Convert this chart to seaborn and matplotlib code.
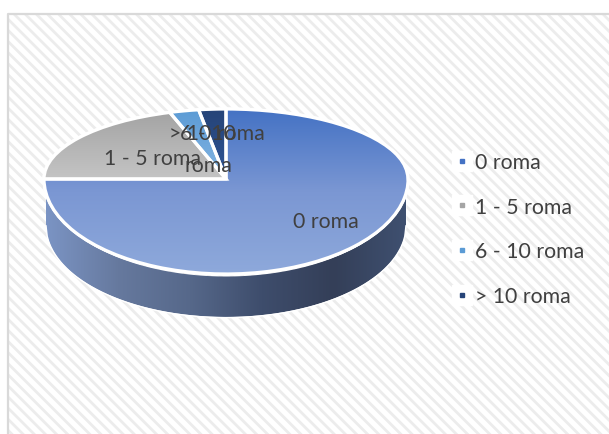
import numpy as np
import seaborn as sns
import matplotlib.pyplot as plt
from matplotlib.colors import LinearSegmentedColormap
from matplotlib.lines import Line2D
from matplotlib.legend_handler import HandlerTuple
from matplotlib.patches import Rectangle

categories = ['0 roma', '1 - 5 roma', '6 - 10 roma', '> 10 roma']
slice_labels = ['0 roma', '1 - 5 roma', '6 - 10\nroma', '> 10 roma']
values = [75, 20, 2.6, 2.4]

# gradient stops for every slice, top to bottom
slice_colors = [['#4472c4', '#7b97d3', '#8ea9db'],
                ['#a3a3a3', '#b4b4b4', '#c4c4c4'],
                ['#5b9bd5', '#70a8dc', '#86b6e2'],
                ['#264478', '#2a4c86', '#2f5597']]
legend_colors = ['#4472c4', '#a5a5a5', '#5b9bd5', '#264478']
side_colors = ['#7b94c4', '#66799e', '#56688a', '#3e4d6c', '#343f58', '#3f5070']

W, H = 609, 435

sns.set_theme(style='white')
plt.rcParams['font.family'] = ['Lato', 'DejaVu Sans']
plt.rcParams['hatch.linewidth'] = 2.0
text_color = '#404040'
font_size = 15.3

fig = plt.figure(figsize=(W / 100, H / 100), dpi=100, facecolor='white')

# background in pixel coordinates
bg = fig.add_axes([0, 0, 1, 1], zorder=0)
bg.add_patch(Rectangle((8, 15), 610, 430, facecolor='white', edgecolor='#ececec',
                       hatch='\\\\\\', linewidth=0))
bg.plot([8, 8, W], [H, 15, 15], color='#d9d9d9', lw=1.6)
bg.axis('off')

# pie rim below the top face
xs = np.linspace(46, 406, 300)
u = (xs - 226) / 180
arc = np.sqrt(np.clip(1 - u ** 2, 0, 1))
rim_top = 180 + 95 * arc + 2.5
rim_low = 226 + 92 * arc
rim = bg.fill_between(xs, rim_top, rim_low, color='white', linewidth=0, zorder=2)
side_cmap = LinearSegmentedColormap.from_list('side', side_colors)
side = bg.imshow(np.linspace(0, 1, 256)[None, :], cmap=side_cmap, aspect='auto',
                 extent=(46, 406, 320, 180), zorder=3)
side.set_clip_path(rim.get_paths()[0], bg.transData)
bg.plot(xs, rim_low + 0.6, color='white', lw=1.0, zorder=4)
bg.set_xlim(0, W)
bg.set_ylim(H, 0)


def to_axes(y):
    return np.where(y > 0, 70 * y, 95 * y)


def from_axes(y):
    return np.where(y > 0, y / 70, y / 95)


def draw_pie(pos, z):
    # axes box is the bounding box of the ellipse
    a = fig.add_axes(pos, zorder=z)
    w, _ = a.pie(values, startangle=90, counterclock=False, radius=1,
                 wedgeprops=dict(edgecolor='white', linewidth=2.3, facecolor='none'))
    a.set_aspect('auto')
    a.set_yscale('function', functions=(to_axes, from_axes))
    a.set_xlim(-1, 1)
    a.set_ylim(-1, 1)
    a.axis('off')
    for p in w:
        p.set_clip_on(False)
    return a, w


ax, wedges = draw_pie([44 / W, 1 - 275 / H, 364 / W, 165 / H], 1)

# gradients sit in an overlay, clipped to each slice
over = fig.add_axes([0, 0, 1, 1], zorder=2)
over.axis('off')
spans = [(110, 275), (112, 180), (110, 180), (110, 180)]
for w, stops, (y0, y1) in zip(wedges, slice_colors, spans):
    cmap = LinearSegmentedColormap.from_list('g', stops)
    im = over.imshow(np.linspace(0, 1, 256)[:, None], cmap=cmap, aspect='auto',
                     extent=(40, 412, y1, y0), zorder=1)
    im.set_clip_path(w)
over.set_xlim(0, W)
over.set_ylim(H, 0)

# slice outlines above the gradient
draw_pie(ax.get_position(), 3)

# data labels, overlapping like in the original
txt = fig.add_axes([0, 0, 1, 1], zorder=4)
txt.set_xlim(0, W)
txt.set_ylim(H, 0)
txt.axis('off')
label_xy = [(326, 222.5), (153, 159), (208, 150), (217, 134)]
for lab, (x, y) in zip(slice_labels, label_xy):
    txt.text(x, y, lab, ha='center', va='center', fontsize=font_size, color=text_color,
             linespacing=1.75)

# legend
handles = [(Line2D([], [], marker='s', ls='', color='white', ms=15),
            Line2D([], [], marker='s', ls='', color=c, ms=2.8)) for c in legend_colors]
txt.legend(handles, categories, handler_map={tuple: HandlerTuple(ndivide=1, pad=0)},
           loc='upper left', bbox_to_anchor=(451 / W, 1 - 153 / H), frameon=False,
           fontsize=font_size, labelcolor=text_color, handlelength=1.0, handletextpad=0.15,
           labelspacing=1.16, borderpad=0, borderaxespad=0)

fig.savefig('out.png', dpi=100)
